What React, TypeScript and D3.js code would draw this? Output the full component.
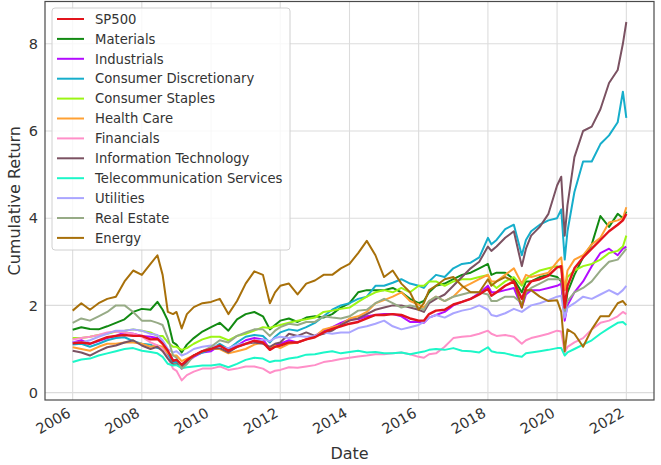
import React from "react";
import * as d3 from "d3";

// Decimal-year sample dates (shared by all series)
const dateYears = [
  2006.0, 2006.25, 2006.5, 2006.75, 2007.0, 2007.25, 2007.5, 2007.75,
  2008.0, 2008.25, 2008.45, 2008.6, 2008.75, 2008.9, 2009.0, 2009.15, 2009.3, 2009.5, 2009.75,
  2010.0, 2010.25, 2010.5, 2010.75, 2011.0, 2011.25, 2011.5, 2011.7, 2011.85,
  2012.0, 2012.25, 2012.5, 2012.75, 2013.0, 2013.25, 2013.5, 2013.75,
  2014.0, 2014.25, 2014.5, 2014.75, 2015.0, 2015.25, 2015.5, 2015.75,
  2016.0, 2016.15, 2016.3, 2016.5, 2016.75, 2017.0, 2017.25, 2017.5, 2017.75,
  2018.0, 2018.1, 2018.25, 2018.5, 2018.75, 2018.98, 2019.1, 2019.25, 2019.5, 2019.75,
  2020.0, 2020.12, 2020.22, 2020.3, 2020.5, 2020.75, 2021.0, 2021.25, 2021.5, 2021.75, 2021.9, 2022.0,
];

const sp500 = [
  1.13, 1.15, 1.12, 1.2, 1.27, 1.3, 1.32, 1.3,
  1.3, 1.22, 1.23, 1.12, 0.96, 0.73, 0.75, 0.64, 0.74, 0.85, 0.95,
  1.0, 1.08, 0.96, 1.05, 1.12, 1.19, 1.15, 0.98, 1.05,
  1.08, 1.15, 1.15, 1.22, 1.27, 1.38, 1.46, 1.52,
  1.58, 1.62, 1.7, 1.78, 1.78, 1.8, 1.78, 1.7,
  1.65, 1.65, 1.8, 1.88, 1.9, 2.02, 2.08, 2.15, 2.25,
  2.38, 2.22, 2.3, 2.45, 2.55, 2.15, 2.4, 2.55, 2.6, 2.68,
  2.87, 2.9, 1.95, 2.45, 2.85, 3.1, 3.3, 3.5, 3.7, 3.85, 3.95, 4.1,
];

const materials = [
  1.44, 1.5, 1.46, 1.45, 1.52, 1.6, 1.68, 1.85,
  1.92, 1.9, 2.08, 1.9, 1.65, 1.15, 1.1, 0.92, 1.1, 1.25, 1.4,
  1.5, 1.6, 1.42, 1.68, 1.8, 1.85, 1.75, 1.45, 1.55,
  1.65, 1.7, 1.62, 1.72, 1.75, 1.72, 1.8, 1.95,
  2.05, 2.3, 2.35, 2.35, 2.35, 2.4, 2.3, 2.15,
  2.05, 2.1, 2.3, 2.45, 2.5, 2.6, 2.7, 2.75, 2.85,
  2.95, 2.7, 2.75, 2.75, 2.6, 2.3, 2.55, 2.55, 2.65, 2.7,
  2.65, 2.55, 1.85, 2.3, 2.7, 3.1, 3.4, 4.05, 3.8, 4.1, 4.0, 4.15,
];

const industrials = [
  1.15, 1.2, 1.12, 1.18, 1.25, 1.3, 1.38, 1.35,
  1.3, 1.28, 1.25, 1.15, 0.95, 0.75, 0.72, 0.55, 0.7, 0.82, 0.92,
  0.95, 1.08, 0.98, 1.08, 1.2, 1.25, 1.22, 1.0, 1.08,
  1.12, 1.2, 1.15, 1.22, 1.3, 1.42, 1.5, 1.6,
  1.68, 1.68, 1.75, 1.78, 1.8, 1.8, 1.75, 1.62,
  1.62, 1.6, 1.72, 1.78, 1.85, 2.0, 2.08, 2.15, 2.28,
  2.45, 2.3, 2.3, 2.35, 2.4, 1.95, 2.25, 2.35, 2.35, 2.4,
  2.45, 2.5, 1.65, 2.0, 2.3, 2.55, 2.9, 3.2, 3.3, 3.15, 3.3, 3.35,
];

const consumerDiscretionary = [
  1.1, 1.12, 1.05, 1.12, 1.2, 1.25, 1.27, 1.18,
  1.12, 1.1, 1.02, 1.0, 0.85, 0.7, 0.7, 0.58, 0.72, 0.85, 0.92,
  1.0, 1.12, 1.0, 1.15, 1.28, 1.32, 1.3, 1.15, 1.28,
  1.38, 1.45, 1.42, 1.5, 1.6, 1.75, 1.9, 2.0,
  2.05, 2.15, 2.2, 2.45, 2.45, 2.52, 2.6, 2.5,
  2.45, 2.4, 2.55, 2.7, 2.65, 2.85, 2.95, 2.98, 3.1,
  3.55, 3.4, 3.5, 3.75, 3.85, 3.15, 3.5, 3.7, 3.85, 3.95,
  4.0, 4.2, 3.05, 3.7, 4.6, 5.3, 5.3, 5.7, 5.9, 6.2, 6.9, 6.3,
];

const consumerStaples = [
  1.25, 1.25, 1.28, 1.32, 1.35, 1.4, 1.42, 1.45,
  1.42, 1.38, 1.3, 1.3, 1.15, 1.05, 1.05, 0.98, 1.02, 1.12, 1.22,
  1.28, 1.28, 1.2, 1.3, 1.35, 1.42, 1.5, 1.48, 1.52,
  1.55, 1.6, 1.65, 1.68, 1.72, 1.85, 1.88, 1.92,
  1.95, 2.08, 2.2, 2.3, 2.35, 2.3, 2.4, 2.3,
  2.45, 2.45, 2.55, 2.55, 2.45, 2.55, 2.6, 2.6, 2.65,
  2.7, 2.5, 2.4, 2.55, 2.65, 2.45, 2.6, 2.7, 2.8, 2.85,
  2.9, 2.85, 2.35, 2.65, 2.8, 2.9, 2.95, 3.05, 3.2, 3.25, 3.35, 3.6,
];

const healthCare = [
  1.04, 1.0, 0.96, 1.05, 1.12, 1.12, 1.15, 1.15,
  1.12, 1.05, 1.08, 1.05, 0.9, 0.85, 0.85, 0.72, 0.78, 0.85, 0.95,
  1.0, 1.0, 0.9, 0.95, 1.0, 1.1, 1.15, 1.02, 1.08,
  1.02, 1.12, 1.15, 1.22, 1.28, 1.45, 1.5, 1.55,
  1.7, 1.75, 1.85, 2.05, 2.12, 2.2, 2.3, 2.1,
  2.02, 1.95, 2.1, 2.2, 2.1, 2.2, 2.4, 2.5, 2.6,
  2.7, 2.55, 2.55, 2.7, 2.85, 2.5, 2.7, 2.65, 2.7, 2.75,
  3.0, 3.1, 2.35, 2.8, 3.05, 3.15, 3.4, 3.55, 3.9, 3.95, 4.0, 4.25,
];

const financials = [
  1.22, 1.25, 1.28, 1.32, 1.38, 1.4, 1.38, 1.35,
  1.28, 1.15, 1.08, 1.0, 0.8, 0.55, 0.5, 0.28, 0.4, 0.48, 0.55,
  0.55, 0.6, 0.52, 0.55, 0.6, 0.6, 0.55, 0.45, 0.5,
  0.52, 0.58, 0.57, 0.6, 0.63, 0.7, 0.73, 0.77,
  0.8, 0.83, 0.85, 0.88, 0.88, 0.9, 0.92, 0.88,
  0.82, 0.8, 0.88, 0.9, 1.05, 1.25, 1.28, 1.3, 1.35,
  1.42, 1.35, 1.3, 1.32, 1.28, 1.12, 1.2, 1.25, 1.3, 1.35,
  1.42, 1.4, 0.92, 1.05, 1.15, 1.25, 1.45, 1.6, 1.65, 1.75, 1.85, 1.8,
];

const informationTechnology = [
  0.96, 0.92, 0.85, 0.95, 1.04, 1.08, 1.15, 1.2,
  1.08, 1.0, 1.05, 0.95, 0.78, 0.65, 0.65, 0.6, 0.72, 0.85, 0.95,
  1.0, 1.02, 0.92, 1.05, 1.12, 1.15, 1.12, 1.05, 1.12,
  1.15, 1.35, 1.3, 1.38, 1.3, 1.35, 1.42, 1.55,
  1.65, 1.7, 1.8, 1.9, 1.95, 2.0, 2.0, 1.95,
  1.9, 1.85, 2.05, 2.15, 2.25, 2.45, 2.65, 2.85, 3.0,
  3.35, 3.25, 3.35, 3.55, 3.7, 2.9, 3.3, 3.6, 3.8, 4.1,
  4.75, 4.95, 3.6, 4.3, 5.4, 6.0, 6.1, 6.5, 7.1, 7.4, 8.0, 8.5,
];

const telecommunicationServices = [
  0.7, 0.76, 0.78, 0.85, 0.9, 0.95, 1.0, 1.02,
  0.96, 0.93, 0.9, 0.82, 0.66, 0.62, 0.63, 0.56, 0.58, 0.6, 0.62,
  0.62, 0.65, 0.58, 0.66, 0.75, 0.8, 0.78, 0.7, 0.73,
  0.73, 0.78, 0.81, 0.87, 0.88, 0.92, 0.95, 0.9,
  0.93, 0.96, 0.92, 0.93, 0.9, 0.9, 0.92, 0.88,
  0.92, 0.94, 0.98, 1.0, 0.98, 1.02, 0.96, 0.95, 0.92,
  1.04, 0.95, 0.92, 0.9, 0.85, 0.82, 0.9, 0.92, 0.95, 0.98,
  1.02, 1.02, 0.85, 0.92, 1.0, 1.1, 1.2, 1.35, 1.48, 1.6, 1.62, 1.55,
];

const utilities = [
  1.15, 1.15, 1.2, 1.28, 1.35, 1.42, 1.42, 1.45,
  1.42, 1.35, 1.32, 1.2, 1.0, 0.92, 0.95, 0.85, 0.9, 1.0, 1.05,
  1.08, 1.05, 1.02, 1.1, 1.12, 1.18, 1.22, 1.18, 1.25,
  1.28, 1.25, 1.3, 1.28, 1.3, 1.38, 1.35, 1.38,
  1.38, 1.48, 1.52, 1.58, 1.65, 1.52, 1.45, 1.5,
  1.55, 1.62, 1.72, 1.78, 1.72, 1.82, 1.88, 1.92, 2.0,
  1.9, 1.78, 1.75, 1.82, 1.92, 1.85, 1.92, 2.0, 2.05, 2.12,
  2.2, 2.22, 1.72, 1.95, 2.05, 2.2, 2.15, 2.25, 2.35, 2.25, 2.35, 2.45,
];

const realEstate = [
  1.6, 1.7, 1.65, 1.75, 1.85, 2.0, 2.0, 1.85,
  1.65, 1.65, 1.6, 1.55, 1.25, 0.85, 0.8, 0.55, 0.65, 0.85, 0.95,
  1.05, 1.2, 1.15, 1.3, 1.38, 1.45, 1.45, 1.3, 1.42,
  1.5, 1.58, 1.55, 1.62, 1.62, 1.75, 1.72, 1.7,
  1.75, 1.88, 1.9, 2.05, 2.15, 2.05, 1.95, 2.0,
  1.95, 1.9, 2.1, 2.2, 2.1, 2.2, 2.25, 2.3, 2.3,
  2.25, 2.1, 2.1, 2.2, 2.2, 2.05, 2.3, 2.4, 2.5, 2.6,
  2.6, 2.6, 1.88, 2.1, 2.3, 2.4, 2.55, 2.8, 3.0, 3.05, 3.2, 3.3,
];

const energy = [
  1.88, 2.05, 1.9, 2.05, 2.15, 2.2, 2.55, 2.8,
  2.7, 2.95, 3.15, 2.7, 1.85, 1.8, 1.85, 1.47, 1.8, 1.96, 2.05,
  2.08, 2.15, 1.8, 2.1, 2.5, 2.78, 2.7, 2.05, 2.3,
  2.45, 2.5, 2.25, 2.5, 2.57, 2.7, 2.7, 2.85,
  2.95, 3.2, 3.48, 3.15, 2.65, 2.8, 2.5, 2.3,
  1.9, 2.05, 2.35, 2.45, 2.6, 2.65, 2.45, 2.3, 2.3,
  2.6, 2.45, 2.55, 2.65, 2.55, 1.95, 2.35, 2.35, 2.2, 2.1,
  2.12, 1.85, 0.95, 1.45, 1.35, 1.05, 1.45, 1.75, 1.75, 2.05, 2.1, 2.0,
];

const seriesNames = [
  "SP500", "Materials", "Industrials", "Consumer Discretionary", "Consumer Staples",
  "Health Care", "Financials", "Information Technology", "Telecommunication Services",
  "Utilities", "Real Estate", "Energy",
];
const seriesValues = [
  sp500, materials, industrials, consumerDiscretionary, consumerStaples,
  healthCare, financials, informationTechnology, telecommunicationServices,
  utilities, realEstate, energy,
];
const seriesColors = [
  "#e2141c", "#128a12", "#b30cff", "#16aecb", "#9cf514",
  "#ffa033", "#ff8fc8", "#7b5262", "#1cf7c8",
  "#aaa5ff", "#97ab86", "#a8700a",
];

const xTickYears = [2006, 2008, 2010, 2012, 2014, 2016, 2018, 2020, 2022];
const yTicks = [0, 2, 4, 6, 8];

const W = 661;
const H = 465;
const FONT = "DejaVu Sans, sans-serif";

function yearToDate(y: number): Date {
  const base = Math.floor(y);
  const t0 = Date.UTC(base, 0, 1);
  const t1 = Date.UTC(base + 1, 0, 1);
  return new Date(t0 + (y - base) * (t1 - t0));
}

export default function App() {
  const left = 45, right = 654, top = 1.5, bottom = 400;
  const x = d3.scaleUtc()
    .domain([yearToDate(2005.2), yearToDate(2022.8)])
    .range([left, right]);
  const y = d3.scaleLinear().domain([-0.17, 8.97]).range([bottom, top]);
  const dates = dateYears.map(yearToDate);

  const line = d3.line<[Date, number]>()
    .x((d) => x(d[0]))
    .y((d) => y(d[1]));

  const order = [1, 2, 3, 4, 5, 6, 7, 8, 9, 10, 11, 0];

  const legendX = 52, legendY = 8, legendW = 238, legendH = 242;

  return (
    <svg
      width={W}
      height={H}
      viewBox={`0 0 ${W} ${H}`}
      style={{ position: "absolute", left: 0, top: 0, background: "#fff" }}
      fontFamily={FONT}
    >
      <rect x={0} y={0} width={W} height={H} fill="#fff" />
      <defs>
        <clipPath id="clip">
          <rect x={left} y={top} width={right - left} height={bottom - top} />
        </clipPath>
      </defs>
      {/* grid */}
      {xTickYears.map((yr) => (
        <line key={"gx" + yr} x1={x(yearToDate(yr))} x2={x(yearToDate(yr))} y1={top} y2={bottom}
          stroke="#dcdcdc" strokeWidth={1.1} />
      ))}
      {yTicks.map((v) => (
        <line key={"gy" + v} x1={left} x2={right} y1={y(v)} y2={y(v)} stroke="#dcdcdc" strokeWidth={1.1} />
      ))}
      {/* series */}
      <g clipPath="url(#clip)">
        {order.map((i) => (
          <path
            key={seriesNames[i]}
            d={line(dates.map((d, k) => [d, seriesValues[i][k]] as [Date, number])) || ""}
            fill="none"
            stroke={seriesColors[i]}
            strokeWidth={i === 0 ? 2.4 : 2.0}
            strokeLinejoin="round"
          />
        ))}
      </g>
      {/* spines */}
      <rect x={left} y={top} width={right - left} height={bottom - top} fill="none" stroke="#4a4a4a" strokeWidth={1.2} />
      {/* y tick labels */}
      {yTicks.map((v) => (
        <text key={"ty" + v} x={38} y={y(v)} dy="0.36em" textAnchor="end" fontSize={14.5} fill="#333">
          {v}
        </text>
      ))}
      {/* x tick labels */}
      {xTickYears.map((yr) => (
        <text key={"tx" + yr} transform={`translate(${x(yearToDate(yr)) - 1},${416}) rotate(-30)`}
          textAnchor="end" fontSize={14.5} fill="#333">
          {yr}
        </text>
      ))}
      {/* axis labels */}
      <text x={(left + right) / 2} y={459} textAnchor="middle" fontSize={16} fill="#333">Date</text>
      <text transform={`translate(20,${(top + bottom) / 2}) rotate(-90)`} textAnchor="middle" fontSize={16} fill="#333">
        Cumulative Return
      </text>
      {/* legend */}
      <rect x={legendX} y={legendY} width={legendW} height={legendH} rx={3} ry={3}
        fill="#fff" fillOpacity={0.8} stroke="#d0d0d0" strokeWidth={1} />
      {seriesNames.map((name, i) => {
        const ly = 19 + i * 19.9;
        return (
          <g key={"lg" + name}>
            <line x1={57} x2={84} y1={ly} y2={ly} stroke={seriesColors[i]} strokeWidth={2} />
            <text x={95} y={ly} dy="0.36em" fontSize={13.2} fill="#333">{name}</text>
          </g>
        );
      })}
    </svg>
  );
}
